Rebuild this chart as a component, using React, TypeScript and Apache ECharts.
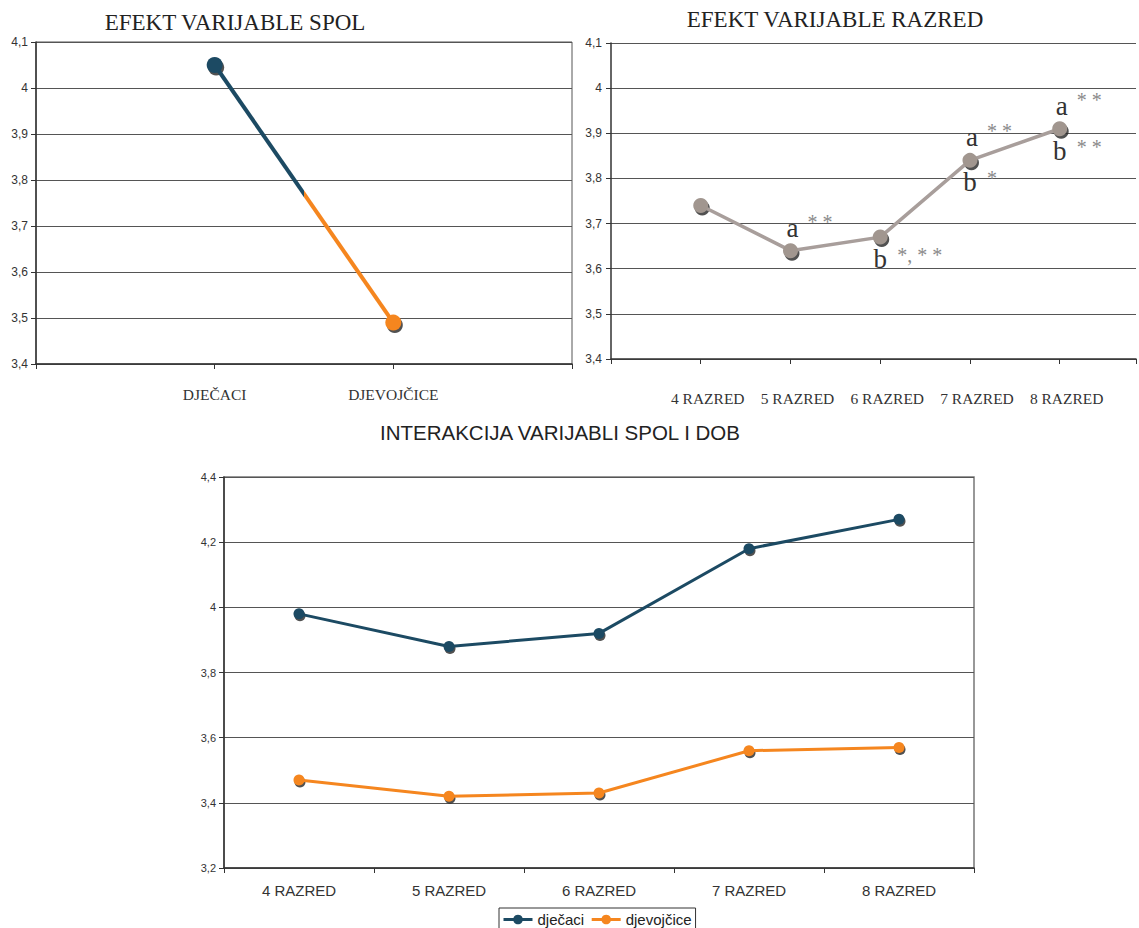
import React, { useEffect, useRef } from 'react';
import * as echarts from 'echarts';

// ---------- data ----------
const SPOL_CATEGORIES = ['DJEČACI', 'DJEVOJČICE'];
const SPOL_VALUES = [4.05, 3.49];

const RAZRED_CATEGORIES = ['4 RAZRED', '5 RAZRED', '6 RAZRED', '7 RAZRED', '8 RAZRED'];
const RAZRED_VALUES = [3.74, 3.64, 3.67, 3.84, 3.91];

const DJECACI_VALUES = [3.98, 3.88, 3.92, 4.18, 4.27];
const DJEVOJCICE_VALUES = [3.47, 3.42, 3.43, 3.56, 3.57];

const SERIES_NAMES = ['dječaci', 'djevojčice'];

const TITLES = ['EFEKT VARIJABLE SPOL', 'EFEKT VARIJABLE RAZRED', 'INTERAKCIJA VARIJABLI SPOL I DOB'];

const TOP_Y = { min: 3.4, max: 4.1, interval: 0.1 };
const BOTTOM_Y = { min: 3.2, max: 4.4, interval: 0.2 };

const ANNOTATIONS = [
  { razred: '5 RAZRED', letter: 'a', stars: '* *', place: 'above' },
  { razred: '6 RAZRED', letter: 'b', stars: '*, * *', place: 'below' },
  { razred: '7 RAZRED', letter: 'a', stars: '* *', place: 'above' },
  { razred: '7 RAZRED', letter: 'b', stars: '*', place: 'below' },
  { razred: '8 RAZRED', letter: 'a', stars: '* *', place: 'above' },
  { razred: '8 RAZRED', letter: 'b', stars: '* *', place: 'below' },
];

// ---------- styles ----------
const BLUE = '#1c4a63';
const ORANGE = '#f5861f';
const GRAY_LINE = '#a89e9b';
const GRAY_MARK = '#a1968f';
const SHADOW = '#262626';
const SERIF = '"Liberation Serif", "Times New Roman", serif';
const SANS = '"Liberation Sans", Arial, sans-serif';
const SPOL_COLORS = [BLUE, ORANGE];

const fmtY = (v: number) => String(Math.round(v * 100) / 100).replace('.', ',');

function yAxisCfg(gridIndex: number, r: { min: number; max: number; interval: number }, fontSize: number, margin: number) {
  return {
    type: 'value',
    gridIndex,
    min: r.min,
    max: r.max,
    interval: r.interval,
    axisLine: { show: true, lineStyle: { color: '#333', width: 1.5 } },
    axisTick: { show: true, length: 5, lineStyle: { color: '#333' } },
    axisLabel: { formatter: fmtY, fontFamily: SANS, fontSize, color: '#333', margin },
    splitLine: { show: true, lineStyle: { color: '#555', width: 1 } },
  };
}

export default function App() {
  const ref = useRef<HTMLDivElement>(null);

  useEffect(() => {
    if (!ref.current) return;
    const chart = echarts.init(ref.current, null, { renderer: 'svg' });

    const annotationPoints: any[] = [];
    ANNOTATIONS.forEach((a) => {
      const idx = RAZRED_CATEGORIES.indexOf(a.razred);
      const coord = [idx + 1, RAZRED_VALUES[idx]];
      const above = a.place === 'above';
      annotationPoints.push({
        coord,
        symbol: 'circle',
        symbolSize: 0,
        label: {
          show: true,
          position: 'inside',
          formatter: a.letter,
          offset: above ? [2, -23] : [0, 22],
          fontFamily: SERIF,
          fontSize: 27,
          color: '#333',
        },
      });
      annotationPoints.push({
        coord,
        symbol: 'circle',
        symbolSize: 0,
        label: {
          show: true,
          position: 'inside',
          align: 'left',
          formatter: a.stars,
          offset: above ? [17, -29] : [17, 18],
          fontFamily: SERIF,
          fontSize: 20,
          color: '#8a8a8a',
        },
      });
    });

    // hard colour switch half-way along the single segment (style only)
    const splitGradient = new echarts.graphic.LinearGradient(0, 0, 1, 0, [
      { offset: 0, color: BLUE },
      { offset: 0.5, color: BLUE },
      { offset: 0.5, color: ORANGE },
      { offset: 1, color: ORANGE },
    ]);

    const option: any = {
      animation: false,
      backgroundColor: '#ffffff',
      title: [
        { text: TITLES[0], left: 235, top: 11, textAlign: 'center', padding: 0,
          textStyle: { fontFamily: SERIF, fontSize: 23, fontWeight: 'normal', color: '#222' } },
        { text: TITLES[1], left: 835, top: 8, textAlign: 'center', padding: 0,
          textStyle: { fontFamily: SERIF, fontSize: 23, fontWeight: 'normal', color: '#222' } },
        { text: TITLES[2], left: 560, top: 422, textAlign: 'center', padding: 0,
          textStyle: { fontFamily: SANS, fontSize: 20.5, fontWeight: 'normal', color: '#222' } },
      ],
      legend: {
        data: SERIES_NAMES,
        left: 499,
        top: 908,
        orient: 'horizontal',
        borderColor: '#333',
        borderWidth: 1,
        padding: [4, 4, 4, 3],
        itemGap: 6,
        itemWidth: 29,
        itemHeight: 12,
        lineStyle: { width: 3 },
        textStyle: { fontFamily: SANS, fontSize: 15, color: '#222' },
      },
      grid: [
        { left: 36, top: 42, width: 536, height: 322, show: true, borderColor: '#555', borderWidth: 1, backgroundColor: 'transparent' },
        { left: 611, top: 43, right: 0, height: 316, show: false },
        { left: 224, top: 477, width: 750, height: 391, show: true, borderColor: '#777', borderWidth: 1.5, backgroundColor: 'transparent' },
      ],
      xAxis: [
        {
          type: 'value', gridIndex: 0, min: 0, max: SPOL_CATEGORIES.length + 1, interval: 1,
          axisLine: { show: true, lineStyle: { color: '#333', width: 1.5 } },
          axisTick: { show: true, length: 5, lineStyle: { color: '#333' } },
          axisLabel: {
            formatter: (v: number) => SPOL_CATEGORIES[v - 1] ?? '',
            fontFamily: SERIF, fontSize: 15.5, color: '#333', margin: 22,
          },
          splitLine: { show: false },
        },
        {
          // the plot continues past the picture's right edge (cropped)
          type: 'value', gridIndex: 1, min: 0, max: 5.85, interval: 1,
          axisLine: { show: true, lineStyle: { color: '#333', width: 1.5 } },
          axisTick: { show: true, length: 5, lineStyle: { color: '#333' } },
          axisLabel: {
            formatter: (v: number) => RAZRED_CATEGORIES[v - 1] ?? '',
            fontFamily: SERIF, fontSize: 15.5, color: '#333', margin: 31, padding: [0, 0, 0, 14],
          },
          splitLine: { show: false },
        },
        {
          type: 'category', gridIndex: 2, data: RAZRED_CATEGORIES, boundaryGap: true,
          axisLine: { show: true, lineStyle: { color: '#333', width: 1.5 } },
          axisTick: { show: true, length: 5, lineStyle: { color: '#333' } },
          axisLabel: { fontFamily: SANS, fontSize: 15, color: '#333', margin: 15 },
          splitLine: { show: false },
        },
      ],
      yAxis: [
        yAxisCfg(0, TOP_Y, 12, 8),
        yAxisCfg(1, TOP_Y, 12, 9),
        yAxisCfg(2, BOTTOM_Y, 11, 8),
      ],
      series: [
        {
          name: 'spol-shadow', type: 'scatter', xAxisIndex: 0, yAxisIndex: 0, z: 1,
          data: SPOL_VALUES.map((v, i) => [i + 1, v]),
          symbol: 'circle', symbolSize: 16, symbolOffset: [1.5, 2.5],
          itemStyle: { color: SHADOW }, silent: true,
        },
        {
          name: 'spol', type: 'line', xAxisIndex: 0, yAxisIndex: 0, z: 3,
          data: SPOL_VALUES.map((v, i) => [i + 1, v]),
          symbol: 'circle', symbolSize: 16, showSymbol: true,
          lineStyle: { width: 4, color: splitGradient },
          itemStyle: { color: (p: any) => SPOL_COLORS[p.dataIndex] },
        },
        {
          name: 'razred-shadow', type: 'scatter', xAxisIndex: 1, yAxisIndex: 1, z: 1,
          data: RAZRED_VALUES.map((v, i) => [i + 1, v]),
          symbol: 'circle', symbolSize: 15, symbolOffset: [1.5, 2.5],
          itemStyle: { color: SHADOW }, silent: true,
        },
        {
          name: 'razred', type: 'line', xAxisIndex: 1, yAxisIndex: 1, z: 3,
          data: RAZRED_VALUES.map((v, i) => [i + 1, v]),
          symbol: 'circle', symbolSize: 15, showSymbol: true,
          lineStyle: { width: 3.5, color: GRAY_LINE },
          itemStyle: { color: GRAY_MARK },
          markPoint: { data: annotationPoints, itemStyle: { color: 'transparent' } },
        },
        {
          name: 'djecaci-shadow', type: 'scatter', xAxisIndex: 2, yAxisIndex: 2, z: 1,
          data: DJECACI_VALUES, symbol: 'circle', symbolSize: 11, symbolOffset: [1, 2],
          itemStyle: { color: SHADOW }, silent: true,
        },
        {
          name: 'djevojcice-shadow', type: 'scatter', xAxisIndex: 2, yAxisIndex: 2, z: 1,
          data: DJEVOJCICE_VALUES, symbol: 'circle', symbolSize: 11, symbolOffset: [1, 2],
          itemStyle: { color: SHADOW }, silent: true,
        },
        {
          name: SERIES_NAMES[0], type: 'line', xAxisIndex: 2, yAxisIndex: 2, z: 3,
          data: DJECACI_VALUES, symbol: 'circle', symbolSize: 11, showSymbol: true,
          lineStyle: { width: 3, color: BLUE }, itemStyle: { color: BLUE },
        },
        {
          name: SERIES_NAMES[1], type: 'line', xAxisIndex: 2, yAxisIndex: 2, z: 3,
          data: DJEVOJCICE_VALUES, symbol: 'circle', symbolSize: 11, showSymbol: true,
          lineStyle: { width: 3, color: ORANGE }, itemStyle: { color: ORANGE },
        },
      ],
    };

    chart.setOption(option);
    return () => chart.dispose();
  }, []);

  return (
    <div
      ref={ref}
      style={{ position: 'absolute', left: 0, top: 0, width: 1139, height: 928, overflow: 'hidden' }}
    />
  );
}
